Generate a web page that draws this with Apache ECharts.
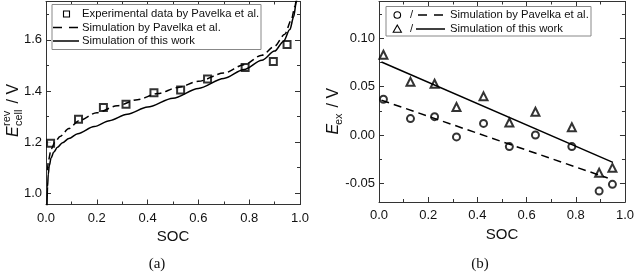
<!DOCTYPE html>
<html><head><meta charset="utf-8">
<script src="https://cdn.jsdelivr.net/npm/echarts@6/dist/echarts.min.js"></script>
<style>html,body{margin:0;padding:0;background:#fff}#c{width:637px;height:273px}</style>
</head><body><div id="c"></div>
<script>
// ---------- data ----------
const socExp = [0.018, 0.128, 0.226, 0.315, 0.425, 0.53, 0.636, 0.784, 0.895, 0.949];
const expPavelka = [1.196, 1.289, 1.335, 1.348, 1.393, 1.404, 1.447, 1.492, 1.515, 1.582];

const simPavSoc = [0.006, 0.01, 0.02, 0.035, 0.055, 0.09, 0.13, 0.20, 0.28, 0.36, 0.44, 0.52, 0.60, 0.70, 0.78, 0.85, 0.90, 0.94, 0.965, 0.98, 0.986];
const simPavE   = [1.09, 1.13, 1.172, 1.199, 1.222, 1.253, 1.284, 1.315, 1.342, 1.366, 1.390, 1.414, 1.438, 1.470, 1.503, 1.540, 1.575, 1.622, 1.675, 1.730, 1.77];

const simWorkSoc = [0.004, 0.006, 0.009, 0.013, 0.02, 0.03, 0.045, 0.065, 0.09, 0.125, 0.19, 0.25, 0.32, 0.40, 0.50, 0.60, 0.70, 0.78, 0.85, 0.90, 0.935, 0.96, 0.975, 0.985, 0.99];
const simWorkE   = [0.95, 1.025, 1.075, 1.108, 1.138, 1.16, 1.18, 1.198, 1.214, 1.233, 1.261, 1.284, 1.309, 1.337, 1.372, 1.410, 1.449, 1.484, 1.520, 1.556, 1.594, 1.640, 1.690, 1.744, 1.78];

const exPavelka = [0.037, 0.017, 0.019, -0.002, 0.012, -0.012, 0.0, -0.012, -0.058, -0.051];
const exWork    = [0.083, 0.055, 0.053, 0.029, 0.040, 0.013, 0.024, 0.008, -0.039, -0.034];
const exPavLineSoc = [0.01, 0.93];
const exPavLineE   = [0.036, -0.0445];
const exWorkLineSoc = [0.01, 0.951];
const exWorkLineE   = [0.0755, -0.0283];

// ---------- helpers ----------
const FONT = '"Liberation Sans", Arial, sans-serif';
const INK = '#111';
const AX = '#333';
const zip = (a, b) => a.map((v, i) => [v, b[i]]);

function xAx(grid, pos, labels) {
  return {
    type: 'value', gridIndex: grid, position: pos, min: 0, max: 1, interval: 0.2,
    axisLine: { show: true, onZero: false, lineStyle: { color: AX, width: 1 } },
    axisTick: { show: true, inside: true, length: 5, lineStyle: { color: AX } },
    minorTick: { show: true, splitNumber: 2, length: 3, lineStyle: { color: AX } },
    splitLine: { show: false }, minorSplitLine: { show: false },
    axisLabel: { show: labels, margin: 7, color: INK, fontSize: 13, fontFamily: FONT,
      formatter: v => v.toFixed(1) },
    name: labels ? 'SOC' : '', nameLocation: 'middle', nameGap: 22,
    nameTextStyle: { color: INK, fontSize: 15, fontFamily: FONT }
  };
}
function yAx(grid, pos, min, max, split, labels, len, dec) {
  return {
    type: 'value', gridIndex: grid, position: pos, min: min, max: max, splitNumber: split,
    axisLine: { show: true, onZero: false, lineStyle: { color: AX, width: 1 } },
    axisTick: { show: true, inside: true, length: len, lineStyle: { color: AX } },
    splitLine: { show: false },
    axisLabel: { show: labels, margin: 4, color: INK, fontSize: 13, fontFamily: FONT,
      showMinLabel: false, showMaxLabel: false,
      formatter: v => v.toFixed(dec) }
  };
}

const yMinA = 0.956, yMaxA = 1.75;
const yMinB = -0.0693, yMaxB = 0.1381;
const K = 40; // helper scale for the minor-tick axis of panel (b)

const option = {
  animation: false,
  backgroundColor: '#fff',
  grid: [
    { left: 46, top: 1.5, width: 254, height: 203 },
    { left: 379, top: 1.5, width: 250, height: 200.5 }
  ],
  xAxis: [
    xAx(0, 'bottom', true), xAx(0, 'top', false),
    xAx(1, 'bottom', true), xAx(1, 'top', false)
  ],
  yAxis: [
    yAx(0, 'left', yMinA, yMaxA, 4, true, 5, 1),
    yAx(0, 'left', yMinA, yMaxA, 8, false, 3, 1),
    yAx(0, 'right', yMinA, yMaxA, 4, false, 5, 1),
    yAx(0, 'right', yMinA, yMaxA, 8, false, 3, 1),
    yAx(1, 'left', yMinB, yMaxB, 4, true, 5, 2),
    yAx(1, 'left', yMinB * K, yMaxB * K, 8, false, 3, 0),
    yAx(1, 'right', yMinB, yMaxB, 4, false, 5, 2),
    yAx(1, 'right', yMinB * K, yMaxB * K, 8, false, 3, 0)
  ],
  series: [
    { type: 'line', xAxisIndex: 0, yAxisIndex: 0, data: zip(simPavSoc, simPavE),
      smooth: 0.3, smoothMonotone: 'x', showSymbol: false, clip: true,
      lineStyle: { color: '#000', width: 1.5, type: [7, 4] } },
    { type: 'line', xAxisIndex: 0, yAxisIndex: 0, data: zip(simWorkSoc, simWorkE),
      smooth: 0.3, smoothMonotone: 'x', showSymbol: false, clip: true,
      lineStyle: { color: '#000', width: 1.5 } },
    { type: 'scatter', xAxisIndex: 0, yAxisIndex: 0, data: zip(socExp, expPavelka),
      symbol: 'emptyRect', symbolSize: 7,
      itemStyle: { color: '#000', borderColor: '#000', borderWidth: 1 } },

    { type: 'line', xAxisIndex: 2, yAxisIndex: 4, data: zip(exPavLineSoc, exPavLineE),
      showSymbol: false, lineStyle: { color: '#000', width: 1.5, type: [8, 5] } },
    { type: 'line', xAxisIndex: 2, yAxisIndex: 4, data: zip(exWorkLineSoc, exWorkLineE),
      showSymbol: false, lineStyle: { color: '#000', width: 1.5 } },
    { type: 'scatter', xAxisIndex: 2, yAxisIndex: 4, data: zip(socExp, exPavelka),
      symbol: 'emptyCircle', symbolSize: 7,
      itemStyle: { color: '#000', borderColor: '#000', borderWidth: 1 } },
    { type: 'scatter', xAxisIndex: 2, yAxisIndex: 4, data: zip(socExp, exWork),
      symbol: 'emptyTriangle', symbolSize: 8,
      itemStyle: { color: '#000', borderColor: '#000', borderWidth: 1 } }
  ],
  graphic: [
    // legend (a)
    { type: 'rect', shape: { x: 52, y: 4.5, width: 209, height: 45 },
      style: { fill: '#fff', stroke: '#888', lineWidth: 1 }, z: 10 },
    { type: 'rect', shape: { x: 63.5, y: 11, width: 6, height: 6 },
      style: { fill: 'none', stroke: '#000', lineWidth: 1.1 }, z: 11 },
    { type: 'line', shape: { x1: 53, y1: 27.5, x2: 78, y2: 27.5 },
      style: { stroke: '#000', lineWidth: 1.5, lineDash: [9, 7] }, z: 11 },
    { type: 'line', shape: { x1: 53, y1: 41, x2: 79, y2: 41 },
      style: { stroke: '#000', lineWidth: 1.5 }, z: 11 },
    { type: 'text', x: 82, y: 14, z: 11, style: { text: 'Experimental data by Pavelka et al.', fill: INK, fontSize: 11.3, fontFamily: FONT, verticalAlign: 'middle' } },
    { type: 'text', x: 82, y: 27.5, z: 11, style: { text: 'Simulation by Pavelka et al.', fill: INK, fontSize: 11.3, fontFamily: FONT, verticalAlign: 'middle' } },
    { type: 'text', x: 82, y: 41, z: 11, style: { text: 'Simulation of this work', fill: INK, fontSize: 11.3, fontFamily: FONT, verticalAlign: 'middle' } },

    // legend (b)
    { type: 'rect', shape: { x: 386, y: 6.5, width: 205, height: 29.5 },
      style: { fill: '#fff', stroke: '#888', lineWidth: 1 }, z: 10 },
    { type: 'circle', shape: { cx: 397.3, cy: 15, r: 3.3 },
      style: { fill: 'none', stroke: '#000', lineWidth: 1.1 }, z: 11 },
    { type: 'polygon', shape: { points: [[397.3, 25], [393.2, 32.3], [401.4, 32.3]] },
      style: { fill: 'none', stroke: '#000', lineWidth: 1.1 }, z: 11 },
    { type: 'text', x: 410, y: 15, z: 11, style: { text: '/', fill: INK, fontSize: 11.3, fontFamily: FONT, verticalAlign: 'middle' } },
    { type: 'text', x: 410, y: 29, z: 11, style: { text: '/', fill: INK, fontSize: 11.3, fontFamily: FONT, verticalAlign: 'middle' } },
    { type: 'line', shape: { x1: 418, y1: 15, x2: 445, y2: 15 },
      style: { stroke: '#000', lineWidth: 1.5, lineDash: [9, 7] }, z: 11 },
    { type: 'line', shape: { x1: 416, y1: 29, x2: 445, y2: 29 },
      style: { stroke: '#000', lineWidth: 1.5 }, z: 11 },
    { type: 'text', x: 450, y: 15, z: 11, style: { text: 'Simulation by Pavelka et al.', fill: INK, fontSize: 11.3, fontFamily: FONT, verticalAlign: 'middle' } },
    { type: 'text', x: 450, y: 29, z: 11, style: { text: 'Simulation of this work', fill: INK, fontSize: 11.3, fontFamily: FONT, verticalAlign: 'middle' } },

    // y-axis name (a)
    { type: 'group', x: 14, y: 107.5, rotation: Math.PI / 2, children: [
      { type: 'text', x: -29.5, y: 0, style: { text: 'E', fill: INK, fontSize: 16, fontStyle: 'italic', fontFamily: FONT, verticalAlign: 'middle' } },
      { type: 'text', x: -18.5, y: -7, style: { text: 'rev', fill: INK, fontSize: 11, fontFamily: FONT, verticalAlign: 'middle' } },
      { type: 'text', x: -18.5, y: 5, style: { text: 'cell', fill: INK, fontSize: 11, fontFamily: FONT, verticalAlign: 'middle' } },
      { type: 'text', x: 4, y: 0, style: { text: '/ V', fill: INK, fontSize: 16, fontFamily: FONT, verticalAlign: 'middle' } }
    ] },
    // y-axis name (b)
    { type: 'group', x: 334, y: 107.5, rotation: Math.PI / 2, children: [
      { type: 'text', x: -27, y: 0, style: { text: 'E', fill: INK, fontSize: 16, fontStyle: 'italic', fontFamily: FONT, verticalAlign: 'middle' } },
      { type: 'text', x: -17.5, y: 5, style: { text: 'ex', fill: INK, fontSize: 11, fontFamily: FONT, verticalAlign: 'middle' } },
      { type: 'text', x: 0, y: 0, style: { text: '/ V', fill: INK, fontSize: 16, fontFamily: FONT, verticalAlign: 'middle' } }
    ] },

    // captions
    { type: 'text', x: 157, y: 264, style: { text: '(a)', fill: INK, fontSize: 15, fontFamily: '"Liberation Serif", serif', align: 'center', verticalAlign: 'middle' } },
    { type: 'text', x: 480, y: 264, style: { text: '(b)', fill: INK, fontSize: 15, fontFamily: '"Liberation Serif", serif', align: 'center', verticalAlign: 'middle' } }
  ]
};

const chart = echarts.init(document.getElementById('c'), null, { renderer: 'canvas' });
chart.setOption(option);
</script>
</body></html>
